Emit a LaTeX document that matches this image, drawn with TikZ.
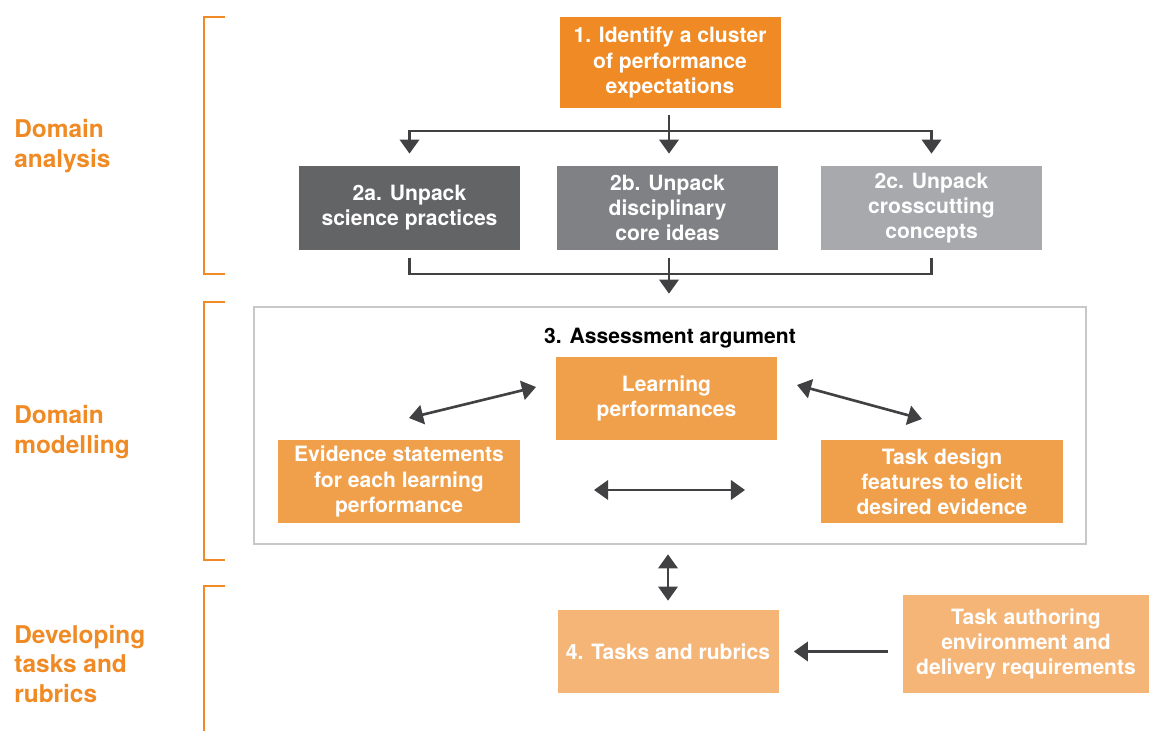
\documentclass[tikz,border=0pt]{standalone}
\usepackage{fontspec}
\setmainfont{TeX Gyre Heros}
\usepackage{tikz}
\usetikzlibrary{arrows.meta, positioning, calc}
\definecolor{phaseorange}{RGB}{239, 138, 36}
\definecolor{argorange}{RGB}{240, 160, 75}
\definecolor{taskorange}{RGB}{245, 181, 119}
\definecolor{unpackdark}{RGB}{99, 100, 102}
\definecolor{unpackmid}{RGB}{128, 129, 132}
\definecolor{unpacklight}{RGB}{167, 169, 172}
\definecolor{linkgray}{RGB}{65, 64, 66}
\definecolor{framegray}{RGB}{199, 200, 202}

\begin{document}
\begin{tikzpicture}[
    box/.style={inner sep=2pt, text=white, align=center, minimum width=4.42cm, minimum height=1.66cm,
        font=\fontsize{12pt}{14.3pt}\selectfont\bfseries},
    phase/.style={anchor=west, inner sep=0pt, align=left, text=phaseorange,
        font=\fontsize{13.9pt}{17pt}\selectfont\bfseries},
    bracket/.style={line width=1.6pt, phaseorange},
    link/.style={line width=1.5pt, linkgray},
    arrow/.style={link, -{Triangle[width=11pt, length=8pt]}},
    twoway/.style={link, {Triangle[width=11pt, length=8pt]}-{Triangle[width=11pt, length=8pt]}}
]
    \useasboundingbox (0,0) rectangle (22.98,-14.62);

    % --- PHASES ON THE LEFT ---
    \node[phase] (analysis) at (0.28,-2.92) {Domain\\analysis};
    \node[phase] (modelling) at (0.28,-8.64) {Domain\\modelling};
    \node[phase] (developing) at (0.28,-13.28) {Developing\\tasks and\\rubrics};

    \draw[bracket] (4.5,-0.34) -- (4.08,-0.34) -- (4.08,-5.48) -- (4.5,-5.48);
    \draw[bracket] (4.5,-6.04) -- (4.08,-6.04) -- (4.08,-11.2) -- (4.5,-11.2);
    \draw[bracket] (4.5,-11.72) -- (4.08,-11.72) -- (4.08,-14.8);

    % --- DOMAIN ANALYSIS ---
    \node[box, fill=phaseorange, minimum height=1.82cm] (cluster) at (13.4,-1.25)
        {1. Identify a cluster\\of performance\\expectations};

    \node[box, fill=unpackdark, minimum height=1.68cm] (practices) at (8.19,-4.16)
        {2a. Unpack\\science practices};
    \node[box, fill=unpackmid, minimum height=1.68cm] (coreideas) at (13.35,-4.16)
        {2b. Unpack\\disciplinary\\core ideas};
    \node[box, fill=unpacklight, minimum height=1.68cm] (concepts) at (18.63,-4.16)
        {2c. Unpack\\crosscutting\\concepts};

    \coordinate (split) at (13.38,-2.62);
    \draw[link, shorten <=0.14cm] (cluster.south -| split) -- (split);
    \draw[arrow, shorten >=0.24cm] (split) -| (practices.north);
    \draw[arrow, shorten >=0.24cm] (split) -- (split |- coreideas.north);
    \draw[arrow, shorten >=0.24cm] (split) -| (concepts.north);

    % --- ASSESSMENT ARGUMENT ---
    \node[draw=framegray, line width=1.5pt, minimum width=16.64cm, minimum height=4.74cm] (argbox) at (13.4,-8.51) {};
    \node[font=\fontsize{12pt}{14.3pt}\selectfont\bfseries] (argtitle) at (13.4,-6.76) {3. Assessment argument};

    \coordinate (merge) at (13.38,-5.48);
    \draw[link, shorten <=0.16cm] (practices.south) |- (merge);
    \draw[link, shorten <=0.16cm] (concepts.south) |- (merge);
    \draw[link, shorten <=0.16cm] (merge |- coreideas.south) -- (merge);
    \draw[arrow, shorten >=0.24cm] (merge) -- (merge |- argbox.north);

    \node[box, fill=argorange] (learning) at (13.33,-7.97) {Learning\\performances};
    \node[box, fill=argorange, minimum width=4.84cm] (evidence) at (7.98,-9.63)
        {Evidence statements\\for each learning\\performance};
    \node[box, fill=argorange, minimum width=4.84cm] (design) at (18.84,-9.63)
        {Task design\\features to elicit\\desired evidence};

    \coordinate (evidenceend) at (8.18,-8.36);
    \coordinate (learningleft) at (10.72,-7.74);
    \coordinate (learningright) at (15.94,-7.7);
    \coordinate (designend) at (18.44,-8.38);
    \coordinate (evidenceright) at (11.88,-9.8);
    \coordinate (designleft) at (14.9,-9.8);
    \draw[twoway] (evidenceend) -- (learningleft);
    \draw[twoway] (learningright) -- (designend);
    \draw[twoway] (evidenceright) -- (designleft);

    % --- TASKS AND RUBRICS ---
    \node[box, fill=taskorange] (tasks) at (13.36,-13.03) {4. Tasks and rubrics};
    \node[box, fill=taskorange, minimum width=4.92cm, minimum height=1.96cm] (authoring) at (20.52,-12.88)
        {Task authoring\\environment and\\delivery requirements};

    \draw[twoway, shorten <=0.18cm, shorten >=0.18cm] (argbox.south -| tasks) -- (tasks.north);
    \draw[arrow, shorten <=0.3cm, shorten >=0.3cm] (authoring.west |- tasks.east) -- (tasks.east);

\end{tikzpicture}
\end{document}
